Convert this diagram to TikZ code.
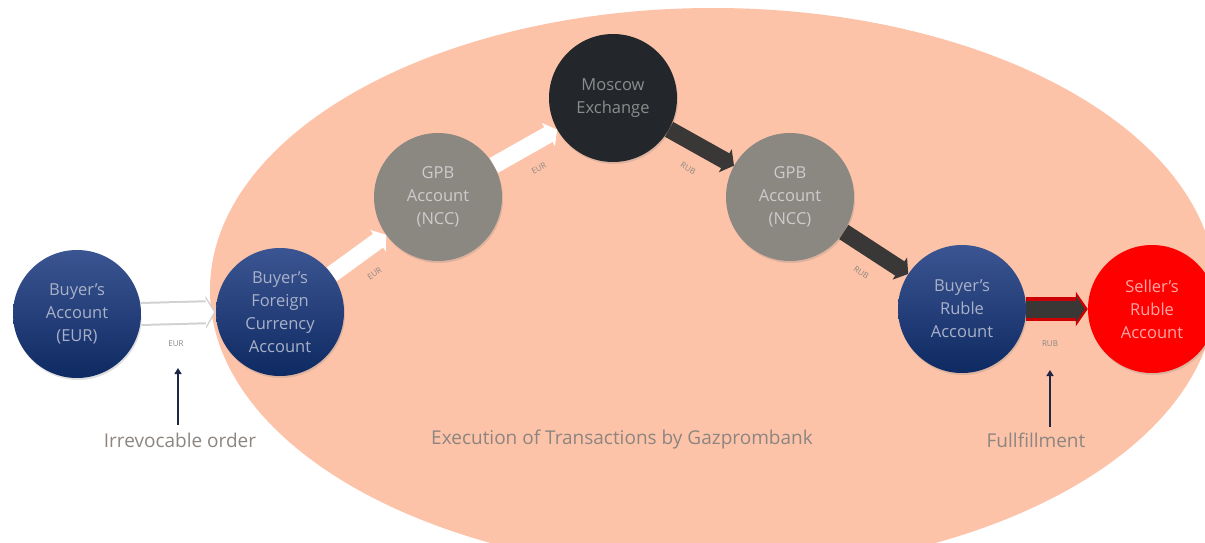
\documentclass[tikz,border=0pt]{standalone}
\usepackage{fontspec}
\setmainfont{Open Sans}
\usetikzlibrary{arrows.meta,shadows}
\definecolor{salmonbg}{HTML}{FDC3A9}
\definecolor{navytop}{HTML}{3B5592}
\definecolor{navybot}{HTML}{0E2A62}
\definecolor{gpbgray}{HTML}{8B8881}
\definecolor{mexdark}{HTML}{23262B}
\definecolor{darkarrow}{HTML}{3A3737}
\definecolor{lbl}{HTML}{8C8580}
\definecolor{navytext}{HTML}{A9B1C8}
\definecolor{vnavy}{HTML}{1E2846}
\tikzset{
  acct/.style={circle, minimum size=128pt, inner sep=0pt, align=center,
    font=\fontsize{16.5}{23}\selectfont,
    drop shadow={opacity=0.25, shadow xshift=1pt, shadow yshift=-2pt}},
  navyacct/.style={acct, top color=navytop, bottom color=navybot, text=navytext},
  grayacct/.style={acct, fill=gpbgray, text=black!20},
  darkacct/.style={acct, fill=mexdark, text=black!45},
  redacct/.style={acct, fill=red, text=red!35!white},
  whiteout/.style={line width=24pt, black!18, -{Triangle[length=10pt,width=32pt]}},
  whitein/.style={line width=20pt, white, shorten >=2pt, -{Triangle[length=8pt,width=27pt]}},
  whitearrow/.style={line width=17pt, white, -{Triangle[length=10pt,width=26pt]}},
  darkarr/.style={line width=17pt, darkarrow, -{Triangle[length=10pt,width=26pt]}},
  redout/.style={line width=24pt, red!80!black, -{Triangle[length=12pt,width=34pt]}},
  darkin/.style={line width=17pt, darkarrow, shorten >=3pt, -{Triangle[length=9pt,width=26pt]}},
  cur/.style={font=\fontsize{8}{9}\selectfont, text=lbl},
  caption/.style={font=\fontsize{19}{22}\selectfont, text=lbl},
  vup/.style={line width=2.5pt, vnavy, -{Triangle[length=6pt,width=7pt]}}
}
\begin{document}
\begin{tikzpicture}[x=1pt,y=-1pt]
\useasboundingbox (0,0) rectangle (1205,543);
\begin{scope}
  \clip (0,0) rectangle (1205,543);
  \fill[salmonbg] (713,290) ellipse [x radius=503, y radius=282];
\end{scope}

\node[navyacct] (ba) at (77,314) {Buyer's\\Account\\(EUR)};
\node[navyacct] (bf) at (280,312) {Buyer's\\Foreign\\Currency\\Account};
\node[grayacct] (g1) at (438,197) {GPB\\Account\\(NCC)};
\node[darkacct] (mx) at (613,98) {Moscow\\Exchange};
\node[grayacct] (g2) at (790,197) {GPB\\Account\\(NCC)};
\node[navyacct] (br) at (962,309) {Buyer's\\Ruble\\Account};
\node[redacct] (sr) at (1152,309) {Seller's\\Ruble\\Account};

% Buyer's account -> foreign currency account
\draw[whiteout] (ba.east) -- (bf.west);
\draw[whitein] (ba.east) -- (bf.west);
\node[cur] (l1) at (176,344) {EUR};

\draw[whitearrow] (bf) -- (g1) node[cur, pos=0.52, sloped, below=10pt] (l2) {EUR};
\draw[whitearrow] (g1) -- (mx) node[cur, pos=0.52, sloped, below=10pt] (l3) {EUR};
\draw[darkarr] (mx) -- (g2) node[cur, pos=0.48, sloped, below=10pt] (l4) {RUB};
\draw[darkarr] (g2) -- (br) node[cur, pos=0.48, sloped, below=10pt] (l5) {RUB};

\draw[redout] (br.east) -- (sr.west);
\draw[darkin] (br.east) -- (sr.west);
\node[cur] (l6) at (1050,344) {RUB};

\node[caption] (irr) at (180,440) {Irrevocable order};
\coordinate (irrtip) at (178,368);
\draw[vup] (178,425) -- (irrtip);

\node[caption] (exe) at (622,440) {Execution of Transactions by Gazprombank};

\node[caption] (ful) at (1036,440) {Fullfillment};
\coordinate (fultip) at (1050,370);
\draw[vup] (1050,427) -- (fultip);
\end{tikzpicture}
\end{document}
